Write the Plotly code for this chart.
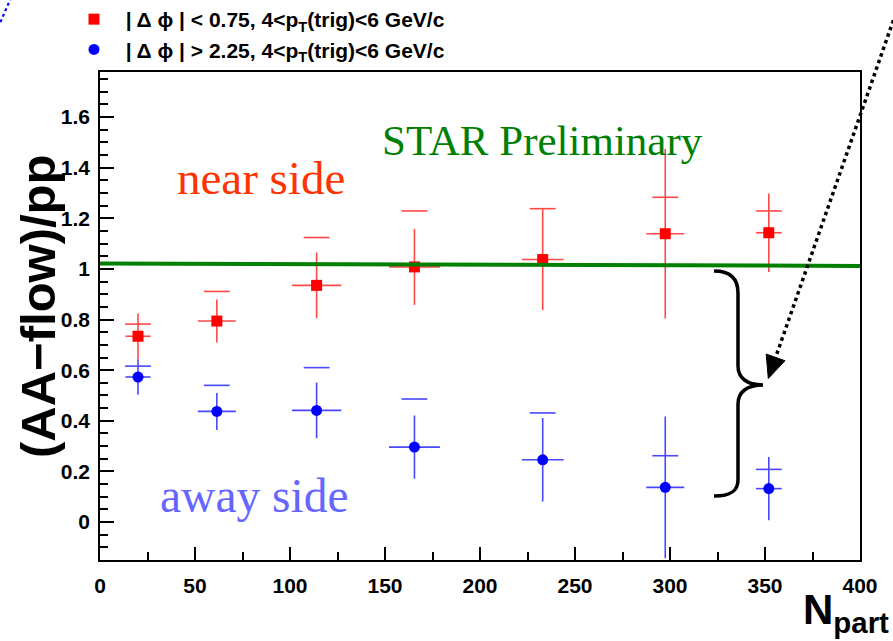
import plotly.graph_objects as go

# ---- data: near-side / away-side yield ratios vs centrality ----
npart = [20, 61.5, 114, 165.5, 233, 297.5, 352]
npart_err = [6.6, 10, 13, 13.4, 11, 10, 6.8]

near_val = [0.734, 0.794, 0.935, 1.008, 1.037, 1.139, 1.143]
near_stat = [0.09, 0.085, 0.13, 0.15, 0.20, 0.335, 0.155]
near_sys_hi = [0.782, 0.911, 1.124, 1.229, 1.238, 1.283, 1.229]

away_val = [0.573, 0.437, 0.441, 0.296, 0.246, 0.137, 0.132]
away_stat = [0.07, 0.073, 0.11, 0.125, 0.165, 0.28, 0.125]
away_sys_hi = [0.616, 0.540, 0.610, 0.486, 0.431, 0.262, 0.208]

# reference level drawn across the pad
ref_level_left = 1.021
ref_level_right = 1.012

x_ticks = [0, 50, 100, 150, 200, 250, 300, 350, 400]
y_ticks = [0, 0.2, 0.4, 0.6, 0.8, 1, 1.2, 1.4, 1.6]

near_name = "\u00a0\u00a0| \u0394 \u03d5 | &lt; 0.75, 4&lt;p<sub>T</sub>(trig)&lt;6 GeV/c"
away_name = "\u00a0\u00a0| \u0394 \u03d5 | &gt; 2.25, 4&lt;p<sub>T</sub>(trig)&lt;6 GeV/c"

# ---- canvas geometry (pixels) ----
W, H = 893, 641
ML, MR, MT, MB = 100, 33, 72, 81
PW, PH = W - ML - MR, H - MT - MB


def pxx(xp):
    return (xp - ML) / PW


def pxy(yp):
    return (H - MB - yp) / PH


SANS = "Liberation Sans, Arial, sans-serif"
SERIF = "Liberation Serif, Times New Roman, serif"
RED, RED_BAR = "#ff0000", "#ff4848"
BLUE, BLUE_BAR = "#0000ff", "#4848ff"
SYS_HALF_WIDTH = 6.8

fig = go.Figure()

# systematic markers (short horizontal dashes)
fig.add_trace(go.Scatter(
    x=npart, y=near_sys_hi, mode="markers", showlegend=False, hoverinfo="skip",
    marker=dict(size=1, color="rgba(0,0,0,0)"),
    error_x=dict(type="constant", value=SYS_HALF_WIDTH, width=0, thickness=1.6, color=RED_BAR),
))
fig.add_trace(go.Scatter(
    x=npart, y=away_sys_hi, mode="markers", showlegend=False, hoverinfo="skip",
    marker=dict(size=1, color="rgba(0,0,0,0)"),
    error_x=dict(type="constant", value=SYS_HALF_WIDTH, width=0, thickness=1.6, color=BLUE_BAR),
))

# data points with statistical errors
fig.add_trace(go.Scatter(
    x=npart, y=near_val, mode="markers", name=near_name, legendgroup="near",
    marker=dict(symbol="square", size=11, color=RED),
    error_x=dict(type="data", array=npart_err, width=0, thickness=1.6, color=RED_BAR),
    error_y=dict(type="data", array=near_stat, width=0, thickness=1.6, color=RED_BAR),
))
fig.add_trace(go.Scatter(
    x=npart, y=away_val, mode="markers", name=away_name, legendgroup="away",
    marker=dict(symbol="circle", size=11, color=BLUE),
    error_x=dict(type="data", array=npart_err, width=0, thickness=1.6, color=BLUE_BAR),
    error_y=dict(type="data", array=away_stat, width=0, thickness=1.6, color=BLUE_BAR),
))

shapes = []
# green reference line
shapes.append(dict(type="line", xref="x", yref="y", x0=0, x1=400,
                   y0=ref_level_left, y1=ref_level_right,
                   line=dict(color="#008000", width=4), layer="above"))

# curly brace
brace_pts = [
    ("M", [(714, 271)]),
    ("C", [(731, 271), (738, 279), (738, 293)]),
    ("L", [(738, 366)]),
    ("C", [(738, 378), (747, 385), (763, 385)]),
    ("C", [(747, 385), (738, 392), (738, 404)]),
    ("L", [(738, 480)]),
    ("C", [(738, 491), (731, 496), (714, 496)]),
]
path = " ".join(cmd + " " + " ".join(f"{pxx(a):.5f},{pxy(b):.5f}" for a, b in pts)
                for cmd, pts in brace_pts)
shapes.append(dict(type="path", xref="paper", yref="paper", path=path,
                   line=dict(color="black", width=3.5)))

# dotted arrow pointing at the brace
tip = (768.3, 378.5)
base = (775.6, 357.4)
shapes.append(dict(type="line", xref="paper", yref="paper",
                   x0=pxx(898), y0=pxy(7), x1=pxx(base[0]), y1=pxy(base[1]),
                   line=dict(color="black", width=3.5, dash="dot")))
c1 = (785.0, 360.7)
c2 = (766.2, 354.1)
head = (f"M {pxx(tip[0]):.5f},{pxy(tip[1]):.5f} L {pxx(c1[0]):.5f},{pxy(c1[1]):.5f} "
        f"L {pxx(c2[0]):.5f},{pxy(c2[1]):.5f} Z")
shapes.append(dict(type="path", xref="paper", yref="paper", path=head,
                   fillcolor="black", line=dict(color="black", width=1)))

# blue dotted line entering at the top-left corner
shapes.append(dict(type="line", xref="paper", yref="paper",
                   x0=pxx(-2), y0=pxy(27.6), x1=pxx(12), y1=pxy(-4.6),
                   line=dict(color="#0000ff", width=2.2, dash="dot")))


def label(text, xp, yp, font, **kw):
    return dict(text=text, x=pxx(xp), y=pxy(yp), xref="paper", yref="paper",
                xanchor=kw.pop("xanchor", "center"), yanchor=kw.pop("yanchor", "middle"),
                showarrow=False, font=font, **kw)


annotations = [
    label("STAR Preliminary", 542, 140, dict(family=SERIF, size=43, color="#008000")),
    label("near side", 261, 178, dict(family=SERIF, size=47, color="#ff3300")),
    label("away side", 254, 496, dict(family=SERIF, size=47.5, color="#6666ff")),
    label("(AA\u2212flow)/pp", 38, 307,
          dict(family=SANS, size=49, weight="bold", color="black"), textangle=-90),
    label("N<sub>part</sub>", 891, 641,
          dict(family=SANS, size=42, weight="bold", color="black"),
          xanchor="right", yanchor="bottom"),
]

tickfont = dict(family=SANS, size=21, weight="bold", color="black")

fig.update_layout(
    width=W, height=H,
    margin=dict(l=ML, r=MR, t=MT, b=MB, autoexpand=False),
    paper_bgcolor="white", plot_bgcolor="white",
    shapes=shapes, annotations=annotations,
    showlegend=True,
    legend=dict(x=pxx(74), y=pxy(-1), xanchor="left", yanchor="top",
                bgcolor="rgba(0,0,0,0)", traceorder="grouped", tracegroupgap=0,
                font=dict(family=SANS, size=21, weight="bold", color="black")),
    xaxis=dict(range=[0, 400], tickvals=x_ticks, ticktext=[str(v) for v in x_ticks],
               ticks="inside", ticklen=13, tickwidth=1.5, tickcolor="black",
               minor=dict(ticks="inside", ticklen=8, dtick=25, tickwidth=1.5, tickcolor="black"),
               showline=True, linecolor="black", linewidth=1.5, mirror=True,
               showgrid=False, zeroline=False, tickfont=tickfont, ticklabelstandoff=6),
    yaxis=dict(range=[-0.15, 1.778], tickvals=y_ticks,
               ticktext=["0", "0.2", "0.4", "0.6", "0.8", "1", "1.2", "1.4", "1.6"],
               ticks="inside", ticklen=14, tickwidth=1.5, tickcolor="black",
               minor=dict(ticks="inside", ticklen=8, dtick=0.05, tickwidth=1.5, tickcolor="black"),
               showline=True, linecolor="black", linewidth=1.5, mirror=True,
               showgrid=False, zeroline=False, tickfont=tickfont, ticklabelstandoff=4),
)

fig.write_html("out.html")
